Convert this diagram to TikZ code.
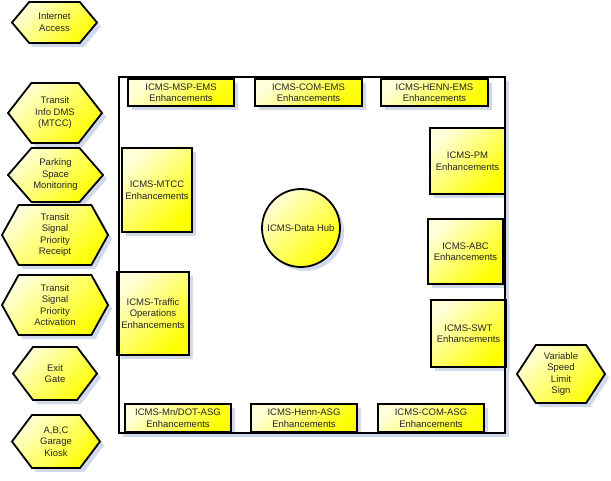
\documentclass[tikz,border=0pt]{standalone}
\usepackage{fontspec}
\setmainfont{Liberation Sans}
\usepackage{tikz}
\usetikzlibrary{shadows}
\usetikzlibrary{shapes.symbols}
\definecolor{boxYellow}{RGB}{255,255,0}
\definecolor{shadowBlue}{RGB}{210,217,235}
\tikzset{%
  yellowfill/.style={top color=boxYellow!15, middle color=boxYellow!85, bottom color=boxYellow, shading angle=45},
  castshadow/.style={drop shadow={shadow xshift=4pt, shadow yshift=-4pt, fill=shadowBlue, opacity=1}},
  % enhancement modules in the frame
  module/.style={rectangle, draw=black, line width=1.8pt, yellowfill, castshadow, inner sep=0pt,
    align=center, text=black!85, font=\fontsize{9.5}{11.5}\selectfont},
  hub/.style={circle, draw=black, line width=1.8pt, yellowfill, castshadow, inner sep=0pt,
    minimum size=78pt, align=center, text=black!85, font=\fontsize{9.5}{11.5}\selectfont},
  % field devices
  device/.style={signal, signal to=west and east, signal pointer angle=#1, draw=black, line width=1.8pt,
    yellowfill, castshadow, inner sep=0pt, align=center, text=black!85, font=\fontsize{9.5}{11.5}\selectfont},
  device/.default=105,
  frame/.style={rectangle, draw=black, line width=1.8pt, fill=white, castshadow, inner sep=0pt},
  frameline/.style={rectangle, draw=black, line width=1.8pt, inner sep=0pt}
}

\begin{document}
\begin{tikzpicture}[x=1pt, y=-1pt]
    \useasboundingbox (0,0) rectangle (611,480);

    \node[frame, minimum width=386pt, minimum height=356pt] (frame) at (312,255) {};

    \node[module, minimum width=106pt, minimum height=27pt] (mspems) at (181,92.5) {ICMS-MSP-EMS\\Enhancements};
    \node[module, minimum width=107pt, minimum height=27pt] (comems) at (308.5,92.5) {ICMS-COM-EMS\\Enhancements};
    \node[module, minimum width=107pt, minimum height=27pt] (hennems) at (434.5,92.5) {ICMS-HENN-EMS\\Enhancements};

    \node[module, minimum width=70pt, minimum height=84pt] (mtcc) at (157,190) {ICMS-MTCC\\Enhancements};
    \node[module, minimum width=72pt, minimum height=83pt] (traffic) at (153,313.5) {ICMS-Traffic\\Operations\\Enhancements};

    \node[module, minimum width=75pt, minimum height=66pt] (pm) at (467.5,161) {ICMS-PM\\Enhancements};
    \node[module, minimum width=75pt, minimum height=65pt] (abc) at (465.5,251.5) {ICMS-ABC\\Enhancements};
    \node[module, minimum width=75pt, minimum height=67pt] (swt) at (468.5,333.5) {ICMS-SWT\\Enhancements};

    \node[module, minimum width=106pt, minimum height=28pt] (mndotasg) at (178,418) {ICMS-Mn/DOT-ASG\\Enhancements};
    \node[module, minimum width=106pt, minimum height=28pt] (hennasg) at (304,418) {ICMS-Henn-ASG\\Enhancements};
    \node[module, minimum width=106pt, minimum height=28pt] (comasg) at (431,418) {ICMS-COM-ASG\\Enhancements};

    % frame outline again, over the module shadows
    \node[frameline, minimum width=386pt, minimum height=356pt] at (frame.center) {};

    \node[hub] (datahub) at (301,228) {ICMS-Data Hub};

    \node[device=100, minimum width=85pt, minimum height=41pt] (internet) at (54.5,22.5) {Internet\\Access};
    \node[device=104, minimum width=94pt, minimum height=60pt] (transitdms) at (55,113) {Transit\\Info DMS\\(MTCC)};
    \node[device=98, minimum width=95pt, minimum height=54pt] (parking) at (55.5,175) {Parking\\Space\\Monitoring};
    \node[device=122, minimum width=106pt, minimum height=60pt] (tspreceipt) at (55,235) {Transit\\Signal\\Priority\\Receipt};
    \node[device=122, minimum width=106pt, minimum height=60pt] (tspactivation) at (55,305) {Transit\\Signal\\Priority\\Activation};
    \node[device=106, minimum width=84pt, minimum height=53pt] (exitgate) at (55,373.5) {Exit\\Gate};
    \node[device=106, minimum width=88pt, minimum height=53pt] (kiosk) at (56,441.5) {A,B,C\\Garage\\Kiosk};
    \node[device=114, minimum width=88pt, minimum height=58pt] (speedsign) at (561,374) {Variable\\Speed\\Limit\\Sign};

\end{tikzpicture}
\end{document}
